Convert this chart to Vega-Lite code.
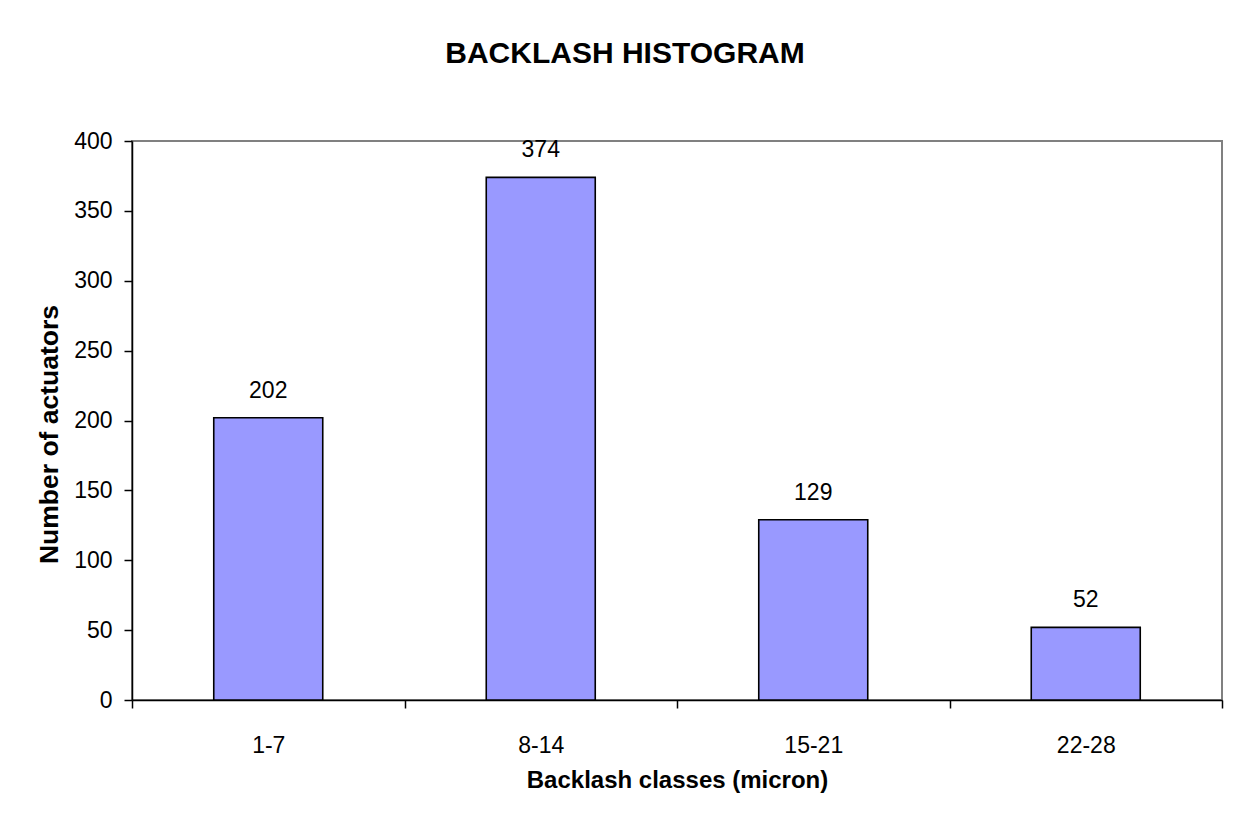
{
  "$schema": "https://vega.github.io/schema/vega-lite/v6.json",
  "autosize": {"type": "none"},
  "padding": {"left": 132, "top": 141, "right": 18, "bottom": 130},
  "width": 1090,
  "height": 559,
  "background": "white",
  "title": {
    "text": "BACKLASH HISTOGRAM",
    "anchor": "middle",
    "frame": "group",
    "fontSize": 30,
    "fontWeight": "bold",
    "font": "Liberation Sans",
    "color": "black",
    "dx": -52,
    "offset": 61
  },
  "data": {
    "values": [
      {"classe": "1-7", "count": 202},
      {"classe": "8-14", "count": 374},
      {"classe": "15-21", "count": 129},
      {"classe": "22-28", "count": 52}
    ]
  },
  "encoding": {
    "x": {
      "field": "classe",
      "type": "nominal",
      "sort": null,
      "scale": {"paddingInner": 0, "paddingOuter": 0},
      "axis": {
        "title": "Backlash classes (micron)",
        "labelAngle": 0,
        "tickBand": "extent",
        "tickSize": 8,
        "labelBaseline": "alphabetic",
        "labelPadding": 44,
        "titleBaseline": "alphabetic",
        "titleY": 87
      }
    },
    "y": {
      "field": "count",
      "type": "quantitative",
      "scale": {"domain": [0, 400], "nice": false},
      "axis": {
        "title": "Number of actuators",
        "values": [0, 50, 100, 150, 200, 250, 300, 350, 400],
        "grid": false,
        "tickSize": 8,
        "labelPadding": 12,
        "titleAngle": 270,
        "titleAlign": "center",
        "titleBaseline": "alphabetic",
        "titleFontSize": 26.5,
        "titleX": -75,
        "titleY": 293
      }
    }
  },
  "layer": [
    {
      "mark": {"type": "bar", "width": {"band": 0.4}, "fill": "#9999FF", "stroke": "black", "strokeWidth": 1.6}
    },
    {
      "mark": {"type": "text", "baseline": "alphabetic", "dy": -20, "fontSize": 23, "font": "Liberation Sans", "color": "black"},
      "encoding": {"text": {"field": "count", "type": "quantitative"}}
    }
  ],
  "config": {
    "view": {"stroke": "#808080", "strokeWidth": 2},
    "axis": {
      "domainColor": "black",
      "domainWidth": 1.5,
      "tickColor": "black",
      "tickWidth": 1.5,
      "labelFont": "Liberation Sans",
      "labelFontSize": 23,
      "labelColor": "black",
      "titleFont": "Liberation Sans",
      "titleFontSize": 24,
      "titleFontWeight": "bold",
      "titleColor": "black"
    }
  }
}
